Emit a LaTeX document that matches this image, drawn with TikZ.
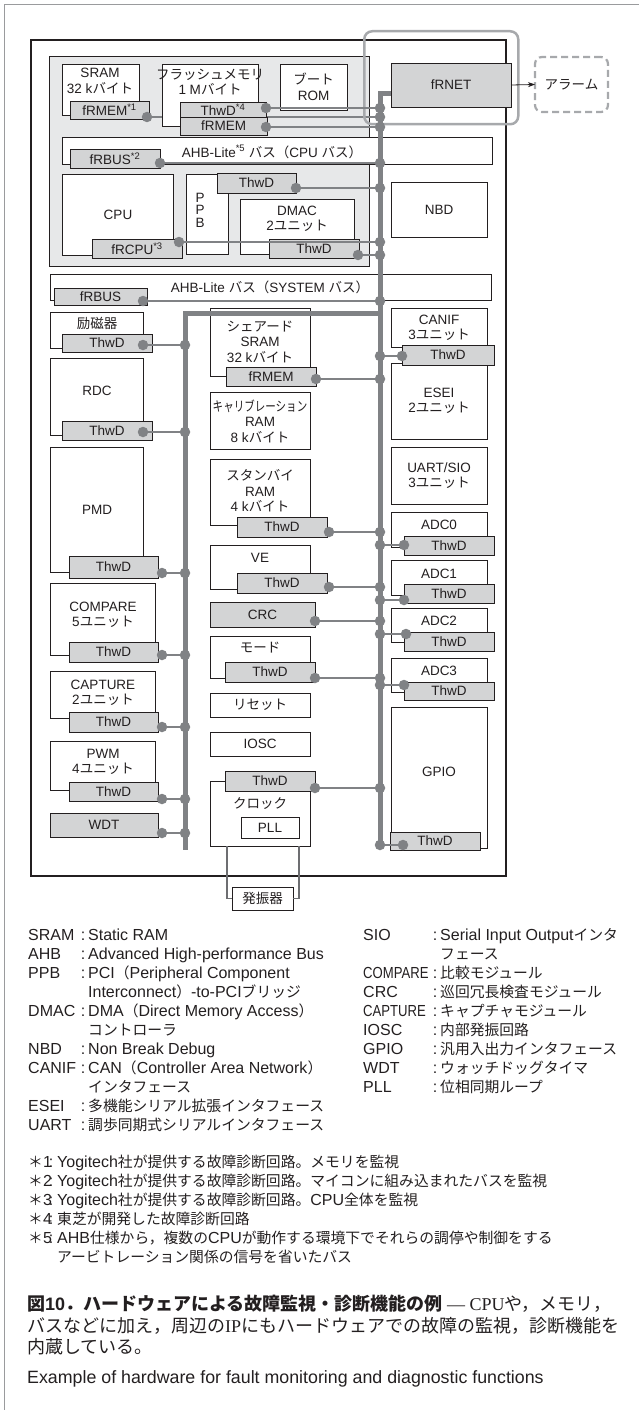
\documentclass[tikz,border=0pt]{standalone}
\usepackage{fontspec}
\setmainfont{Liberation Sans}
\newfontfamily\serifl{Liberation Serif}
\newfontfamily\jpf{Noto Sans CJK JP}
\newfontfamily\jpl{Noto Sans CJK JP}[Scale=0.925]
\usetikzlibrary{arrows.meta}

% automatic switch to the Japanese font for CJK characters
\XeTeXinterchartokenstate=1
\chardef\jpclass=200
\newcount\jpc
\def\setjprange#1#2{\jpc=#1 \loop\XeTeXcharclass\jpc=\jpclass \advance\jpc by 1 \ifnum\jpc<#2 \repeat}
\setjprange{"3000}{"3100}
\setjprange{"4E00}{"A000}
\setjprange{"FF00}{"FFF0}
\XeTeXcharclass"2014=0
\def\jpcur{\jpf}
\def\latcur{\rmfamily}
\XeTeXinterchartoks 0 \jpclass = {\jpcur}
\XeTeXinterchartoks 4095 \jpclass = {\jpcur}
\XeTeXinterchartoks \jpclass 0 = {\latcur}
\XeTeXinterchartoks \jpclass 4095 = {\latcur}

\definecolor{txt}{HTML}{231F20}
\definecolor{gfill}{HTML}{D3D4D5}
\definecolor{cpuarea}{HTML}{E7E8E9}
\definecolor{busc}{HTML}{808285}
\definecolor{framec}{HTML}{9A9B9D}
\definecolor{hlc}{HTML}{A7A9AC}
\definecolor{linec}{HTML}{6D6E71}

\def\boxfont{\fontsize{13.5}{15.5}\selectfont}
\def\legfont{\fontsize{16}{19}\selectfont\def\jpcur{\jpl}}

\tikzset{
  wbox/.style={draw=txt, line width=0.9pt, fill=white, inner sep=0pt, outer sep=0pt,
               align=center, font=\boxfont, text=txt},
  gbox/.style={wbox, fill=gfill},
  lbl/.style={inner sep=0pt, align=center, font=\boxfont, text=txt},
  conn/.style={draw=busc, line width=2pt},
  bus/.style={draw=busc, line width=5pt},
  jdot/.style={circle, fill=busc, inner sep=0pt, minimum size=10.5pt},
  leg/.style={inner sep=0pt, anchor=base west, font=\legfont, text=txt},
  capt/.style={inner sep=0pt, anchor=base west, text=txt, font=\fontsize{18}{24}\selectfont},
}

\newcommand\bx[7][]{\node[#1, anchor=north west, minimum width={(#5-#3)*1pt}, minimum height={(#6-#4)*1pt}] (#2) at (#3,#4) {#7};}
\newcommand\lnk[5]{%
  \node[jdot] (#1a) at (#2,#3) {};
  \node[jdot] (#1b) at (#4,#5) {};
  \draw[conn] (#1a) -- (#1b);}
\newcommand\legl[4]{%
  \node[leg] (#1a) at (28,#2) {#3};
  \node[leg, anchor=base] (#1c) at (83,#2) {:};
  \node[leg] (#1d) at (88,#2) {#4};}
\newcommand\legr[4]{%
  \node[leg] (#1a) at (363,#2) {#3};
  \node[leg, anchor=base] (#1c) at (435,#2) {:};
  \node[leg] (#1d) at (440,#2) {#4};}
\newcommand\fnote[4]{%
  \node[leg] (#1a) at (28,#2) {#3};
  \node[leg, anchor=base] (#1c) at (51,#2) {:};
  \node[leg] (#1d) at (57,#2) {#4};}

\begin{document}
\begin{tikzpicture}[x=1pt, y=-1pt]
\useasboundingbox (0,0) rectangle (638,1410);

% outer panel frame
\draw[framec, line width=1pt] (4,1412) -- (4,5) -- (640,5);

% chip and CPU sub-system
\bx[wbox, line width=1.3pt]{chip}{31}{40}{506}{876}{}
\bx[wbox, fill=cpuarea]{cpuarea}{49}{56}{369}{266}{}

% ---- CPU sub-system blocks
\bx[wbox]{sram}{62}{64}{139}{115}{}
\node[lbl] (sramt) at (100,81) {SRAM\\32 kバイト};
\bx[gbox]{frmemA}{70}{101}{149}{119}{fRMEM\textsuperscript{*1}}
\coordinate (sA) at (147,117);
\coordinate (sB) at (380,117);
\draw[conn] (sA) -- (sB);
\bx[wbox]{flash}{162}{64}{258}{126}{}
\node[lbl] (flasht) at (210,82) {フラッシュメモリ\\1 Mバイト};
\bx[gbox]{thwdA}{180}{102}{266}{117}{ThwD\textsuperscript{*4}}
\bx[gbox]{frmemF}{180}{117}{267}{135}{fRMEM}
\bx[wbox]{boot}{280}{64}{347}{110}{ブート\\ROM}

\bx[wbox]{ahbcpu}{62}{137}{492}{164}{}
\node[lbl] (ahbcput) at (272,152) {AHB-Lite\textsuperscript{*5} バス（CPU バス）};
\bx[gbox]{frbusA}{70}{149}{160}{168}{fRBUS\textsuperscript{*2}}

\bx[wbox]{cpu}{62}{174}{173}{255}{}
\node[lbl] (cput) at (118,215) {CPU};
\bx[gbox]{frcpu}{92}{239}{182}{258}{fRCPU\textsuperscript{*3}}
\bx[wbox]{ppb}{186}{174}{228}{254}{}
\node[lbl, font=\fontsize{13.5}{12.5}\selectfont] (ppbt) at (200,210) {P\\P\\B};
\bx[gbox]{ppbthwd}{217}{173}{296}{193}{ThwD}
\bx[wbox]{dmac}{240}{199}{354}{254}{}
\node[lbl] (dmact) at (297,219) {DMAC\\2ユニット};
\bx[gbox]{dmacthwd}{269}{239}{359}{258}{ThwD}

\bx[wbox]{nbd}{391}{182}{487}{237}{NBD}

% ---- fRNET and alarm
\bx[gbox]{frnet}{391}{63}{511}{107}{fRNET}
\node[draw=hlc, line width=2.5pt, rounded corners=8pt, anchor=north west, inner sep=0pt,
      minimum width=154pt, minimum height=93pt] (hl) at (363,30) {};
\bx[wbox, draw=hlc, line width=2.2pt, dash pattern=on 7pt off 4pt, rounded corners=7pt]{alarm}{535}{57}{608}{112}{アラーム}
\draw[txt, line width=0.8pt, -{Stealth[length=7pt,width=5pt]}] (frnet.east) -- (alarm.west);

% ---- system bus
\bx[wbox]{ahbsys}{50}{274}{491}{300}{}
\node[lbl] (ahbsyst) at (270,287) {AHB-Lite バス（SYSTEM バス）};
\bx[gbox]{frbus}{54}{288}{147}{305}{fRBUS}

% ---- left column
\bx[wbox]{reiji}{50}{312}{143}{348}{}
\node[lbl] (reijit) at (97,323) {励磁器};
\bx[gbox]{reijithwd}{62}{334}{152}{352}{ThwD}
\bx[wbox]{rdc}{50}{358}{143}{435}{}
\node[lbl] (rdct) at (97,391) {RDC};
\bx[gbox]{rdcthwd}{62}{421}{152}{440}{ThwD}
\bx[wbox]{pmd}{50}{447}{143}{572}{}
\node[lbl] (pmdt) at (97,510) {PMD};
\bx[gbox]{pmdthwd}{69}{556}{158}{578}{ThwD}
\bx[wbox]{cmp}{50}{583}{155}{655}{}
\node[lbl] (cmpt) at (103,615) {COMPARE\\5ユニット};
\bx[gbox]{cmpthwd}{69}{642}{158}{662}{ThwD}
\bx[wbox]{cap}{50}{671}{155}{718}{}
\node[lbl] (capt) at (103,693) {CAPTURE\\2ユニット};
\bx[gbox]{capthwd}{69}{712}{158}{732}{ThwD}
\bx[wbox]{pwm}{50}{741}{155}{790}{}
\node[lbl] (pwmt) at (103,762) {PWM\\4ユニット};
\bx[gbox]{pwmthwd}{69}{782}{158}{801}{ThwD}
\bx[gbox]{wdt}{50}{813}{158}{837}{WDT}

% ---- middle column
\bx[wbox]{ssram}{210}{308}{310}{376}{}
\node[lbl] (ssramt) at (260,342) {シェアード\\SRAM\\32 kバイト};
\bx[gbox]{ssramfr}{226}{367}{316}{386}{fRMEM}
\bx[wbox]{calib}{210}{392}{310}{449}{}
\node[lbl] (calibt) at (260,421) {\scalebox{0.78}[1]{キャリブレーション}\\RAM\\8 kバイト};
\bx[wbox]{stby}{210}{459}{310}{525}{}
\node[lbl] (stbyt) at (260,491) {スタンバイ\\RAM\\4 kバイト};
\bx[gbox]{stbythwd}{237}{517}{327}{537}{ThwD}
\bx[wbox]{ve}{210}{545}{310}{589}{}
\node[lbl] (vet) at (260,558) {VE};
\bx[gbox]{vethwd}{237}{573}{327}{593}{ThwD}
\bx[gbox]{crc}{210}{602}{315}{627}{CRC}
\bx[wbox]{mode}{210}{636}{310}{678}{}
\node[lbl] (modet) at (260,648) {モード};
\bx[gbox]{modethwd}{225}{662}{315}{682}{ThwD}
\bx[wbox]{reset}{210}{693}{310}{717}{リセット}
\bx[wbox]{iosc}{210}{732}{310}{756}{IOSC}
\bx[wbox]{clk}{210}{781}{310}{846}{}
\bx[gbox]{clkthwd}{225}{771}{315}{791}{ThwD}
\node[lbl] (clkt) at (260,804) {クロック};
\bx[wbox]{pll}{241}{817}{299}{838}{PLL}
\bx[wbox]{osc}{232}{887}{293}{910}{発振器}
\coordinate (oL) at (227,898);
\coordinate (oR) at (299,898);
\draw[linec, line width=1.2pt] (clk.south -| oL) |- (osc.west);
\draw[linec, line width=1.2pt] (clk.south -| oR) |- (osc.east);

% ---- right column
\bx[wbox]{canif}{391}{308}{487}{347}{}
\node[lbl] (caniftt) at (439,328) {CANIF\\3ユニット};
\bx[wbox]{esei}{391}{363}{487}{439}{ESEI\\2ユニット}
\bx[gbox]{canifthwd}{402}{345}{494}{365}{ThwD}
\bx[wbox]{uart}{391}{447}{487}{504}{UART/SIO\\3ユニット}
\bx[wbox]{adc0}{391}{512}{487}{547}{}
\node[lbl] (adc0t) at (439,525) {ADC0};
\bx[gbox]{adc0thwd}{404}{536}{494}{555}{ThwD}
\bx[wbox]{adc1}{391}{560}{487}{595}{}
\node[lbl] (adc1t) at (439,574) {ADC1};
\bx[gbox]{adc1thwd}{404}{584}{494}{603}{ThwD}
\bx[wbox]{adc2}{391}{608}{487}{642}{}
\node[lbl] (adc2t) at (439,621) {ADC2};
\bx[gbox]{adc2thwd}{404}{632}{494}{651}{ThwD}
\bx[wbox]{adc3}{391}{658}{487}{692}{}
\node[lbl] (adc3t) at (439,671) {ADC3};
\bx[gbox]{adc3thwd}{404}{682}{494}{700}{ThwD}
\bx[wbox]{gpio}{391}{707}{487}{848}{}
\node[lbl] (gpiot) at (439,772) {GPIO};
\bx[gbox]{gpiothwd}{390}{832}{480}{850}{ThwD}

% ---- buses
\coordinate (fin) at (391,94);
\coordinate (busbot) at (380,845);
\draw[bus] (fin) -| (busbot);
\coordinate (lbtop) at (380,313);
\coordinate (lbbot) at (185,850);
\draw[bus] (lbtop) -| (lbbot);

% ---- links to main bus
\node[jdot] (sAd) at (sA) {};
\node[jdot] (sBd) at (sB) {};
\lnk{la}{266}{108}{380}{108}
\lnk{lc}{266}{127}{380}{127}
\lnk{ld}{160}{163}{380}{163}
\lnk{le}{296}{188}{380}{188}
\lnk{lf}{179}{242}{380}{242}
\lnk{lg}{358}{255}{380}{255}
\lnk{lh}{143}{301}{380}{301}
\lnk{li}{402}{356}{380}{356}
\lnk{lj}{316}{379}{380}{379}
\lnk{lk}{329}{532}{380}{532}
\lnk{ll}{404}{545}{380}{545}
\lnk{lm}{329}{587}{380}{587}
\lnk{ln}{404}{600}{380}{600}
\lnk{lo}{315}{621}{380}{621}
\lnk{lp}{406}{634}{380}{634}
\lnk{lq}{315}{678}{380}{678}
\lnk{lr}{404}{685}{380}{685}
\lnk{ls}{315}{788}{380}{788}
\lnk{lt}{403}{845}{380}{845}
% ---- links to left bus
\lnk{ma}{143}{345}{185}{345}
\lnk{mb}{143}{432}{185}{432}
\lnk{mc}{162}{573}{185}{573}
\lnk{md}{162}{655}{185}{655}
\lnk{me}{162}{727}{185}{727}
\lnk{mf}{162}{799}{185}{799}
\lnk{mg}{162}{833}{185}{833}

% ---- legend
\legl{g1}{940}{SRAM}{Static RAM}
\legl{g2}{959}{AHB}{Advanced High-performance Bus}
\legl{g3}{978}{PPB}{PCI（Peripheral Component}
\node[leg] (g3e) at (88,997) {Interconnect）-to-PCIブリッジ};
\legl{g4}{1016}{DMAC}{DMA（Direct Memory Access）}
\node[leg] (g4e) at (88,1035) {コントローラ};
\legl{g5}{1054}{NBD}{Non Break Debug}
\legl{g6}{1073}{CANIF}{CAN（Controller Area Network）}
\node[leg] (g6e) at (88,1092) {インタフェース};
\legl{g7}{1111}{ESEI}{多機能シリアル拡張インタフェース}
\legl{g8}{1130}{UART}{調歩同期式シリアルインタフェース}

\legr{h1}{940}{SIO}{Serial Input Outputインタ}
\node[leg] (h1e) at (440,959) {フェース};
\legr{h2}{978}{\scalebox{0.82}[1]{COMPARE}}{比較モジュール}
\legr{h3}{997}{CRC}{巡回冗長検査モジュール}
\legr{h4}{1016}{\scalebox{0.82}[1]{CAPTURE}}{キャプチャモジュール}
\legr{h5}{1035}{IOSC}{内部発振回路}
\legr{h6}{1054}{GPIO}{汎用入出力インタフェース}
\legr{h7}{1073}{WDT}{ウォッチドッグタイマ}
\legr{h8}{1092}{PLL}{位相同期ループ}

% ---- footnotes
\fnote{f1}{1167}{＊1}{Yogitech社が提供する故障診断回路。メモリを監視}
\fnote{f2}{1186}{＊2}{Yogitech社が提供する故障診断回路。マイコンに組み込まれたバスを監視}
\fnote{f3}{1205}{＊3}{Yogitech社が提供する故障診断回路。CPU全体を監視}
\fnote{f4}{1224}{＊4}{東芝が開発した故障診断回路}
\fnote{f5}{1243}{＊5}{AHB仕様から，複数のCPUが動作する環境下でそれらの調停や制御をする}
\node[leg] (f5e) at (57,1262) {アービトレーション関係の信号を省いたバス};

% ---- caption
\node[capt] (cap1) at (27,1310.5)
  {{\bfseries 図10．ハードウェアによる故障監視・診断機能の例}\def\latcur{\serifl}\serifl{} — CPUや，メモリ，};
\node[capt, font=\fontsize{18}{24}\selectfont\def\latcur{\serifl}\serifl] (cap2) at (27,1332)
  {バスなどに加え，周辺のIPにもハードウェアでの故障の監視，診断機能を};
\node[capt] (cap3) at (27,1353.5) {内蔵している。};
\node[capt, font=\fontsize{17.8}{22}\selectfont] (cap4) at (27,1383)
  {Example of hardware for fault monitoring and diagnostic functions};
\end{tikzpicture}
\end{document}
